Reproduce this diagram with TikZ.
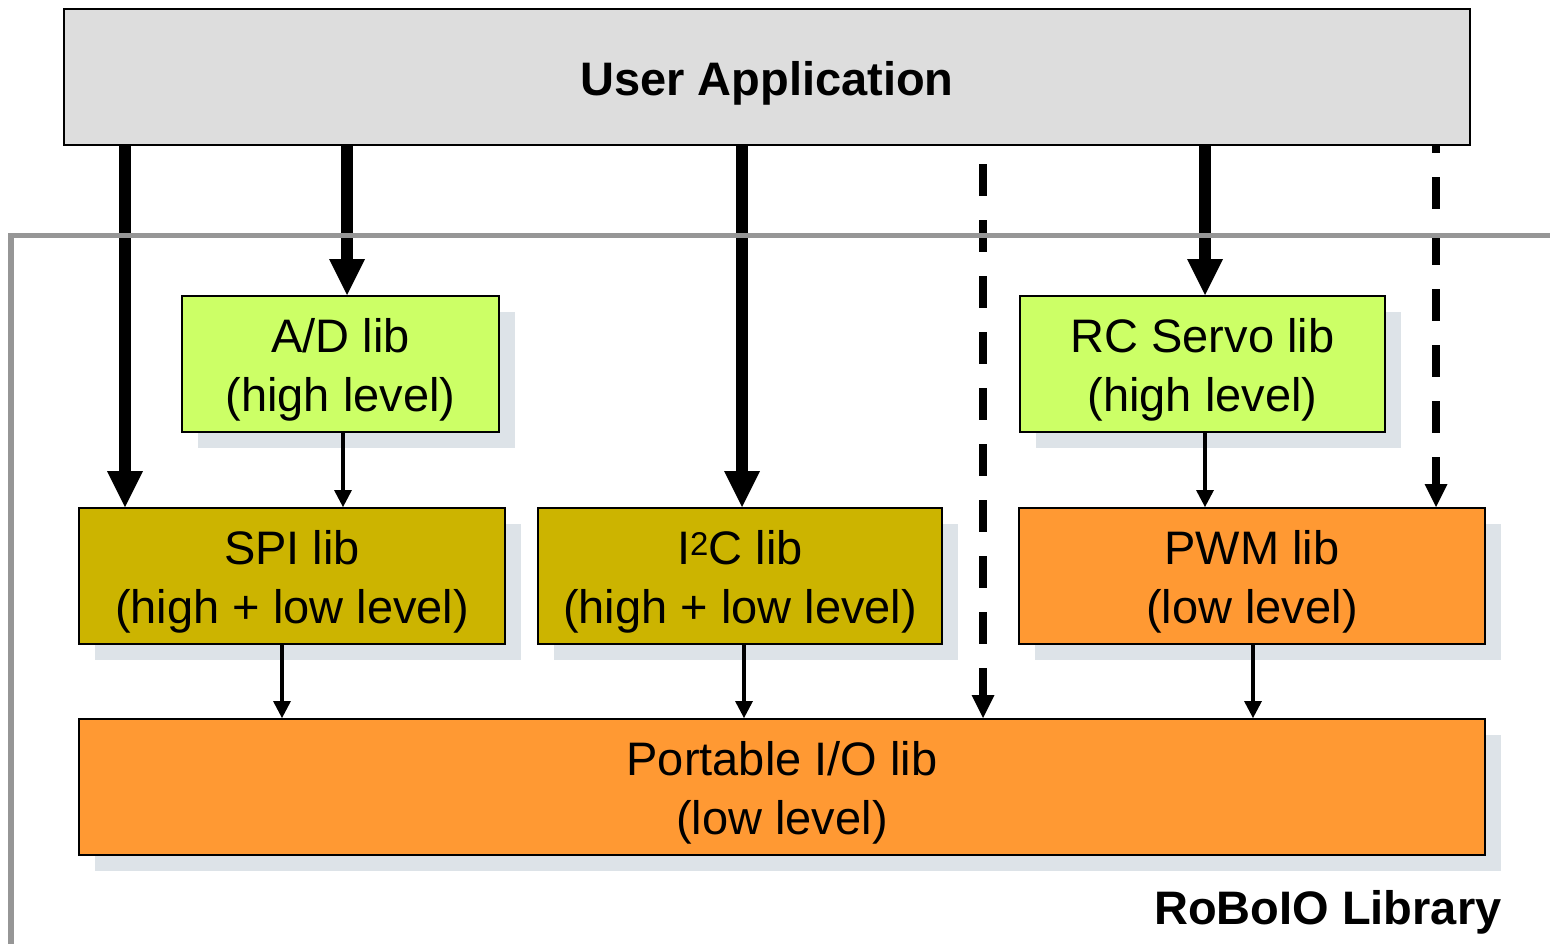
\documentclass[tikz,border=0pt]{standalone}
\usepackage{fontspec}
\setmainfont{Liberation Sans}
\usetikzlibrary{arrows.meta,shadows}
\definecolor{appgray}{HTML}{DDDDDD}
\definecolor{liblime}{HTML}{CCFF66}
\definecolor{libolive}{HTML}{CCB400}
\definecolor{liborange}{HTML}{FF9933}
\definecolor{framegray}{HTML}{969696}
\definecolor{shadecol}{HTML}{DDE3E8}
% taller first line so the text sits a little lower in each box
\newcommand\tstrut{\rule{0pt}{46pt}}
\begin{document}
\begin{tikzpicture}[x=1pt,y=-1pt,
  boxbase/.style={draw=black, line width=2pt, align=center, inner sep=0pt,
    font=\fontsize{47}{59}\selectfont},
  libbox/.style={boxbase,
    drop shadow={shadow xshift=16pt, shadow yshift=-16pt, fill=shadecol,
      draw=none, opacity=1}},
  bigarrow/.style={line width=12pt,
    -{Triangle[width=36pt,length=36pt,line width=0pt]}},
  smallarrow/.style={line width=4.5pt,
    -{Triangle[width=18pt,length=17pt,line width=0pt]}},
  optarrow/.style={line width=8pt, dash pattern=on 32pt off 24pt,
    -{Triangle[width=23pt,length=23pt,line width=0pt]}},
]
\useasboundingbox (0,0) rectangle (1550,943);
\clip (0,0) rectangle (1550,943);

% application layer
\node[boxbase, fill=appgray, minimum width=1406pt, minimum height=136pt,
  font=\bfseries\fontsize{47}{59}\selectfont] (ua) at (767,77) {\tstrut User Application};

% library modules
\node[libbox, fill=liblime, minimum width=317pt, minimum height=136pt]
  (ad) at (340.5,364) {\tstrut A/D lib\\(high level)};
\node[libbox, fill=liblime, minimum width=365pt, minimum height=136pt]
  (rc) at (1202.5,364) {\tstrut RC Servo lib\\(high level)};
\node[libbox, fill=libolive, minimum width=426pt, minimum height=136pt]
  (spi) at (292,576) {\tstrut SPI lib\\(high + low level)};
\node[libbox, fill=libolive, minimum width=404pt, minimum height=136pt]
  (i2c) at (740,576) {\tstrut I\textsuperscript{2}C lib\\(high + low level)};
\node[libbox, fill=liborange, minimum width=466pt, minimum height=136pt]
  (pwm) at (1252,576) {\tstrut PWM lib\\(low level)};
\node[libbox, fill=liborange, minimum width=1406pt, minimum height=136pt]
  (pio) at (782,787) {\tstrut Portable I/O lib\\(low level)};

% connector columns
\coordinate (c1) at (125,0);
\coordinate (c2) at (347,0);
\coordinate (c3) at (742,0);
\coordinate (c4) at (983,0);
\coordinate (c5) at (1205,0);
\coordinate (c6) at (1436,0);
\coordinate (d1) at (343,0);
\coordinate (d2) at (282,0);
\coordinate (d3) at (744,0);
\coordinate (d4) at (1253,0);

% calls from the application
\draw[bigarrow] (ua.south -| c1) -- (spi.north -| c1);
\draw[bigarrow] (ua.south -| c2) -- (ad.north -| c2);
\draw[bigarrow] (ua.south -| c3) -- (i2c.north -| c3);
\draw[bigarrow] (ua.south -| c5) -- (rc.north -| c5);
\draw[optarrow, dash phase=38pt] (ua.south -| c4) -- (pio.north -| c4);
\draw[optarrow, dash phase=25pt] (ua.south -| c6) -- (pwm.north -| c6);

% calls between modules
\draw[smallarrow] (ad.south -| d1) -- (spi.north -| d1);
\draw[smallarrow] (rc.south -| c5) -- (pwm.north -| c5);
\draw[smallarrow] (spi.south -| d2) -- (pio.north -| d2);
\draw[smallarrow] (i2c.south -| d3) -- (pio.north -| d3);
\draw[smallarrow] (pwm.south -| d4) -- (pio.north -| d4);

% library frame
\coordinate (fa) at (11,970);
\coordinate (fb) at (1580,235.5);
\draw[framegray, line width=5.5pt] (fa) |- (fb);

\node[anchor=base east, font=\bfseries\fontsize{47}{56}\selectfont]
  (lbl) at (1505,924) {RoBoIO Library};
\end{tikzpicture}
\end{document}
